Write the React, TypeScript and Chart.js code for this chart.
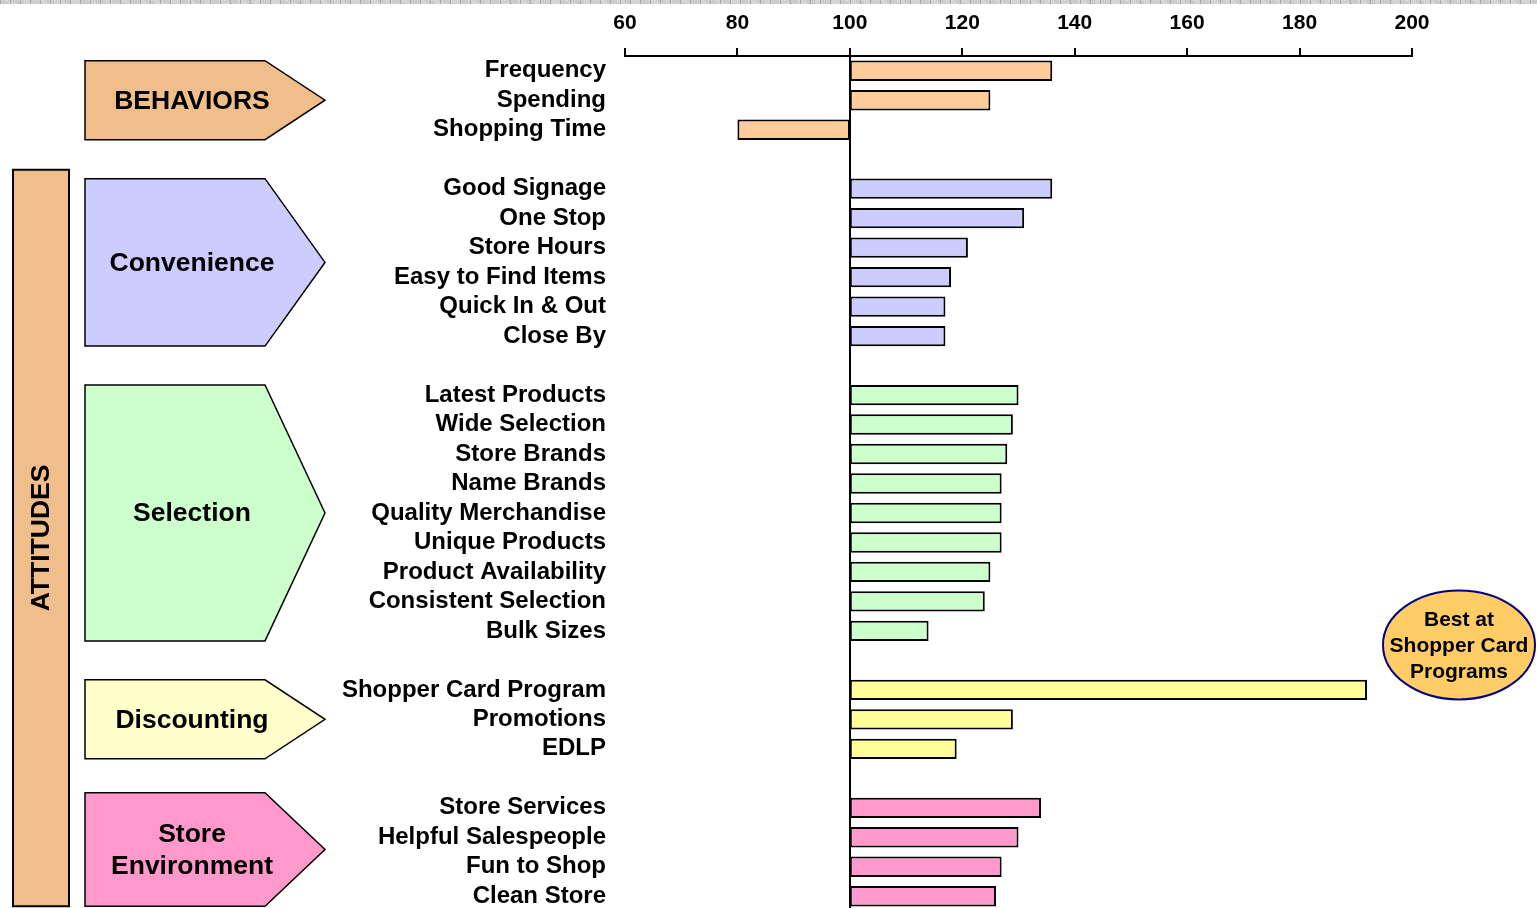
import React, { useEffect, useRef } from 'react';
import { Chart, registerables } from 'chart.js';

Chart.register(...registerables);

const FONT = '"Liberation Sans", Arial, Helvetica, sans-serif';

// ---- data ----
const behaviorLabels = ['Frequency', 'Spending', 'Shopping Time'];
const behaviorValues = [136, 125, 80];

const convenienceLabels = ['Good Signage', 'One Stop', 'Store Hours', 'Easy to Find Items', 'Quick In & Out', 'Close By'];
const convenienceValues = [136, 131, 121, 118, 117, 117];

const selectionLabels = [
  'Latest Products', 'Wide Selection', 'Store Brands', 'Name Brands', 'Quality Merchandise',
  'Unique Products', 'Product Availability', 'Consistent Selection', 'Bulk Sizes',
];
const selectionValues = [130, 129, 128, 127, 127, 127, 125, 124, 114];

const discountLabels = ['Shopper Card Program', 'Promotions', 'EDLP'];
const discountValues = [192, 129, 119];

const environmentLabels = ['Store Services', 'Helpful Salespeople', 'Fun to Shop', 'Clean Store'];
const environmentValues = [134, 130, 127, 126];

const groupTitles = [['BEHAVIORS'], ['Convenience'], ['Selection'], ['Discounting'], ['Store', 'Environment']];
const xTicks = [60, 80, 100, 120, 140, 160, 180, 200];
const indexBase = 100;
const calloutLines = ['Best at', 'Shopper Card', 'Programs'];
const sideTitle = 'ATTITUDES';

const groupDefs = [
  { labels: behaviorLabels, values: behaviorValues, bar: '#FFCC99', shape: '#F0BE8A' },
  { labels: convenienceLabels, values: convenienceValues, bar: '#CCCCFF', shape: '#CCCCFF' },
  { labels: selectionLabels, values: selectionValues, bar: '#CCFFCC', shape: '#CCFFCC' },
  { labels: discountLabels, values: discountValues, bar: '#FFFF99', shape: '#FFFFCC' },
  { labels: environmentLabels, values: environmentValues, bar: '#FF99CC', shape: '#FF99CC' },
];

// build flattened category list with a blank slot between groups
const allLabels: string[] = [];
const allData: (number[] | null)[] = [];
const allColors: string[] = [];
const groupRanges: { start: number; end: number; title: string[]; shape: string }[] = [];
groupDefs.forEach((g, gi) => {
  if (gi > 0) {
    allLabels.push('');
    allData.push(null);
    allColors.push('rgba(0,0,0,0)');
  }
  const start = allLabels.length;
  g.labels.forEach((l, i) => {
    allLabels.push(l);
    allData.push([indexBase, g.values[i]]);
    allColors.push(g.bar);
  });
  groupRanges.push({ start, end: allLabels.length - 1, title: groupTitles[gi], shape: g.shape });
});

const decorPlugin = {
  id: 'decor',
  afterDraw(chart: any) {
    const ctx = chart.ctx as CanvasRenderingContext2D;
    const y = chart.scales.y;
    const slot = Math.abs(y.getPixelForValue(1) - y.getPixelForValue(0));
    const inset = slot * 0.34;
    const shapeLeft = 85;
    const rectRight = 265;
    const tipX = 325;
    const textX = 192;
    ctx.save();
    groupRanges.forEach((g, gi) => {
      const extraTop = gi === groupRanges.length - 1 ? 5 : 0;
      const top = y.getPixelForValue(g.start) - inset - extraTop;
      const bottom = y.getPixelForValue(g.end) + inset;
      const mid = (top + bottom) / 2;
      ctx.beginPath();
      ctx.moveTo(shapeLeft, top);
      ctx.lineTo(rectRight, top);
      ctx.lineTo(tipX, mid);
      ctx.lineTo(rectRight, bottom);
      ctx.lineTo(shapeLeft, bottom);
      ctx.closePath();
      ctx.fillStyle = g.shape;
      ctx.fill();
      ctx.lineWidth = 1.5;
      ctx.strokeStyle = '#000';
      ctx.stroke();
      ctx.fillStyle = '#000';
      ctx.font = `bold 26.5px ${FONT}`;
      ctx.textAlign = 'center';
      ctx.textBaseline = 'middle';
      const lh = 32;
      g.title.forEach((t, i) => {
        ctx.fillText(t, textX, mid + (i - (g.title.length - 1) / 2) * lh + 1);
      });
    });

    // ATTITUDES side bar
    const aTop = y.getPixelForValue(groupRanges[1].start) - inset - 9;
    const aBottom = y.getPixelForValue(groupRanges[groupRanges.length - 1].end) + inset;
    ctx.beginPath();
    ctx.rect(13, aTop, 56, aBottom - aTop);
    ctx.fillStyle = '#F0BE8A';
    ctx.fill();
    ctx.lineWidth = 2;
    ctx.strokeStyle = '#000';
    ctx.stroke();
    ctx.save();
    ctx.translate(41, (aTop + aBottom) / 2);
    ctx.rotate(-Math.PI / 2);
    ctx.fillStyle = '#000';
    ctx.font = `bold 26.5px ${FONT}`;
    ctx.textAlign = 'center';
    ctx.textBaseline = 'middle';
    ctx.fillText(sideTitle, 0, 1);
    ctx.restore();

    // callout ellipse next to the Shopper Card bar
    const barY = y.getPixelForValue(groupRanges[3].start);
    const cx = 1459;
    const cy = barY - 45;
    ctx.beginPath();
    ctx.ellipse(cx, cy, 76, 54.5, 0, 0, Math.PI * 2);
    ctx.fillStyle = '#FFCC66';
    ctx.fill();
    ctx.lineWidth = 2;
    ctx.strokeStyle = '#000080';
    ctx.stroke();
    ctx.fillStyle = '#000';
    ctx.font = `bold 21px ${FONT}`;
    ctx.textAlign = 'center';
    ctx.textBaseline = 'middle';
    calloutLines.forEach((t, i) => {
      ctx.fillText(t, cx, cy + (i - 1) * 26 + 1);
    });
    ctx.restore();
  },
};

export default function App() {
  const canvasRef = useRef<HTMLCanvasElement | null>(null);

  useEffect(() => {
    const canvas = canvasRef.current;
    if (!canvas) return;
    const chart = new Chart(canvas, {
      type: 'bar',
      data: {
        labels: allLabels,
        datasets: [
          {
            data: allData as any,
            backgroundColor: allColors,
            borderColor: '#000',
            borderWidth: 2,
            borderSkipped: false,
            categoryPercentage: 1,
            barPercentage: 0.69,
          },
        ],
      },
      options: {
        indexAxis: 'y',
        responsive: false,
        animation: false,
        devicePixelRatio: 1,
        layout: { padding: { left: 0, right: 125, top: 0, bottom: 0 } },
        plugins: {
          legend: { display: false },
          tooltip: { enabled: false },
          title: { display: false },
        },
        scales: {
          x: {
            type: 'linear',
            position: 'top',
            min: xTicks[0],
            max: xTicks[xTicks.length - 1],
            afterBuildTicks: (scale: any) => {
              scale.ticks = xTicks.map((v) => ({ value: v }));
            },
            afterFit: (scale: any) => {
              scale.height = 56;
            },
            ticks: {
              color: '#000',
              font: { family: FONT, size: 21, weight: 'bold' },
              padding: 12,
              maxRotation: 0,
            },
            grid: {
              display: true,
              drawOnChartArea: true,
              drawTicks: true,
              tickLength: 8,
              lineWidth: 2,
              tickColor: '#000',
              color: (c: any) => (c.tick && c.tick.value === indexBase ? '#000' : 'rgba(0,0,0,0)'),
            },
            border: { display: true, color: '#000', width: 2 },
          },
          y: {
            type: 'category',
            afterFit: (scale: any) => {
              scale.width = 625;
              scale.paddingTop = 0;
              scale.paddingBottom = 0;
            },
            ticks: {
              autoSkip: false,
              color: '#000',
              font: { family: FONT, size: 24, weight: 'bold' },
              padding: 19,
            },
            grid: { display: false, drawTicks: false },
            border: { display: false },
          },
        },
      },
      plugins: [decorPlugin],
    });
    return () => chart.destroy();
  }, []);

  return (
    <div
      style={{
        position: 'absolute',
        left: 0,
        top: 0,
        width: 1537,
        height: 908,
        overflow: 'hidden',
        background: '#fff',
      }}
    >
      <canvas ref={canvasRef} width={1537} height={911} style={{ display: 'block' }} />
      <div
        style={{
          position: 'absolute',
          left: 0,
          top: 0,
          width: 1537,
          height: 4,
          backgroundColor: '#d0d0d0',
          backgroundImage:
            'repeating-linear-gradient(90deg, #a8a8a8 0px, #a8a8a8 1px, transparent 1px, transparent 10px), repeating-linear-gradient(45deg, #c4c4c4 0px, #c4c4c4 1px, #dcdcdc 1px, #dcdcdc 2px)',
        }}
      />
    </div>
  );
}
